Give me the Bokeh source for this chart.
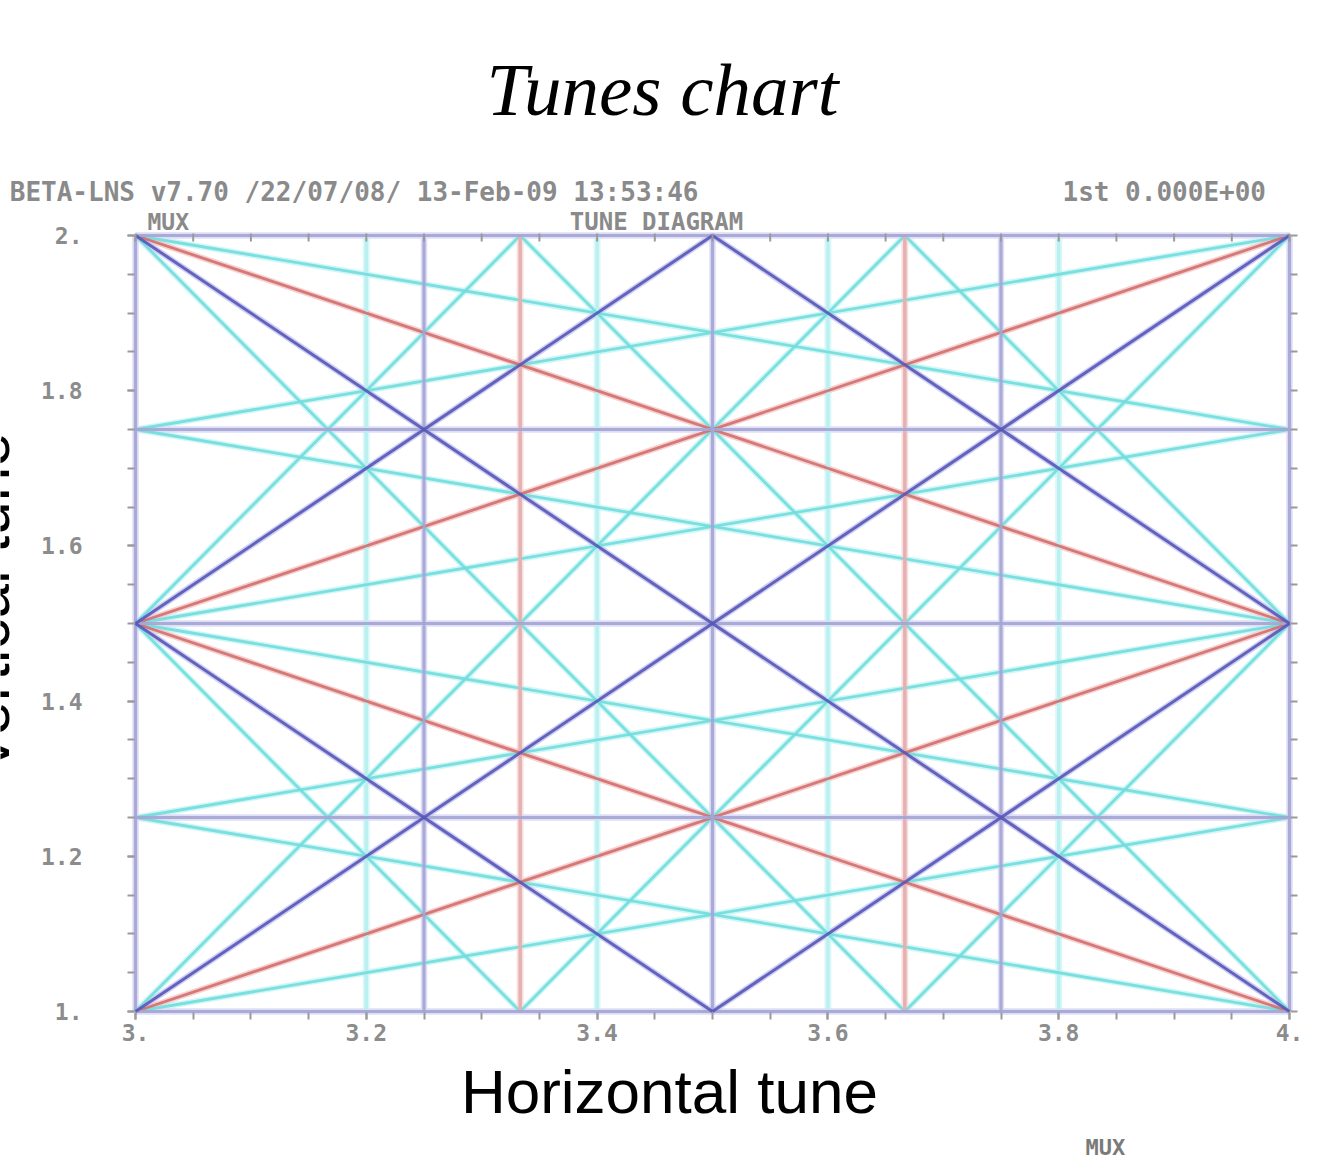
import numpy as np
from bokeh.plotting import figure
from bokeh.layouts import column, row
from bokeh.models import Range1d, LinearAxis, FixedTicker, CustomJSTickFormatter, Title
from bokeh.core.properties import value
from bokeh.embed import file_html
from bokeh.resources import INLINE

# ---------------- data ----------------
qx_lo, qx_hi = 3.0, 4.0
qy_lo, qy_hi = 1.0, 2.0

x_tick_values = [3.0, 3.2, 3.4, 3.6, 3.8, 4.0]
x_tick_labels = ["3.", "3.2", "3.4", "3.6", "3.8", "4."]
y_tick_values = [1.0, 1.2, 1.4, 1.6, 1.8, 2.0]
y_tick_labels = ["1.", "1.2", "1.4", "1.6", "1.8", "2."]
minor_step = 0.05

# resonance lines  a*Qx + b*Qy = n
# order 1/2/4 (blue)
blue_a = [4, 4, 4, 4, 4, 0, 0, 0, 0, 0, 2, 2, 2, 2, 2, 2]
blue_b = [0, 0, 0, 0, 0, 4, 4, 4, 4, 4, 2, 2, 2, -2, -2, -2]
blue_n = [12, 13, 14, 15, 16, 4, 5, 6, 7, 8, 9, 10, 11, 3, 4, 5]
# order 3 (red)
red_a = [3, 3, 1, 1, 1, 1]
red_b = [0, 0, 2, 2, -2, -2]
red_n = [10, 11, 6, 7, 0, 1]
# order 5 (cyan)
cyan_a = [5, 5, 5, 5, 3, 3, 3, 3, 3, 3, 3, 3, 1, 1, 1, 1, 1, 1, 1, 1]
cyan_b = [0, 0, 0, 0, 2, 2, 2, 2, -2, -2, -2, -2, 4, 4, 4, 4, -4, -4, -4, -4]
cyan_n = [16, 17, 18, 19, 12, 13, 14, 15, 6, 7, 8, 9, 8, 9, 10, 11, -4, -3, -2, -1]

title_text = "Tunes chart"
xlabel_text = "Horizontal tune"
ylabel_text = "Vertical tune"
header_left = "BETA-LNS v7.70 /22/07/08/ 13-Feb-09 13:53:46"
header_right = "1st 0.000E+00"
sub_left = "MUX"
sub_center = "TUNE DIAGRAM"
footer_text = "MUX"


def clip_line(a, b, n):
    eps = 1e-9
    pts = []
    if b != 0:
        for x in (qx_lo, qx_hi):
            y = (n - a * x) / b
            if qy_lo - eps <= y <= qy_hi + eps:
                pts.append((x, y))
    if a != 0:
        for y in (qy_lo, qy_hi):
            x = (n - b * y) / a
            if qx_lo - eps <= x <= qx_hi + eps:
                pts.append((x, y))
    uniq = []
    for p_ in pts:
        if not any(abs(p_[0] - q[0]) < eps and abs(p_[1] - q[1]) < eps for q in uniq):
            uniq.append(p_)
    if len(uniq) < 2:
        return None
    uniq.sort()
    return [uniq[0][0], uniq[-1][0]], [uniq[0][1], uniq[-1][1]]


def groups(A, B, N):
    straight = ([], [])
    diag = ([], [])
    for a, b, n in zip(A, B, N):
        seg = clip_line(a, b, n)
        if seg is None:
            continue
        tgt = straight if (a == 0 or b == 0) else diag
        tgt[0].append(seg[0])
        tgt[1].append(seg[1])
    return straight, diag


# ---------------- layout (screen pixels) ----------------
TOTAL_W, TOTAL_H = 1330, 1168
TOP_H = 205           # strip holding title + header line
LEFT_W = 14           # strip holding the (cropped) vertical label
X0, X1 = 135, 1289    # screen x of Qx = 3 and 4
Y1, Y0 = 235, 1011    # screen y of Qy = 2 and 1
PX_X = (X1 - X0) / (qx_hi - qx_lo)
PX_Y = (Y0 - Y1) / (qy_hi - qy_lo)
pad = 5
frame_left, frame_right = X0 - pad, X1 + pad
frame_bottom = Y0 + pad

MW = TOTAL_W - LEFT_W
MH = TOTAL_H - TOP_H


def to_qx(px):
    return qx_lo + (px - X0) / PX_X


def to_qy(py):
    return qy_lo + (Y0 - py) / PX_Y


p = figure(width=MW, height=MH,
           x_range=Range1d(to_qx(frame_left), to_qx(frame_right)),
           y_range=Range1d(to_qy(frame_bottom), to_qy(TOP_H)),
           output_backend="svg", toolbar_location=None,
           min_border_left=frame_left - LEFT_W, min_border_top=0,
           min_border_right=LEFT_W + MW - frame_right,
           min_border_bottom=TOTAL_H - frame_bottom)
p.grid.visible = False
p.outline_line_color = None
p.background_fill_color = "white"
p.border_fill_color = "white"

# ---------------- resonance lines ----------------
cs, cd = groups(cyan_a, cyan_b, cyan_n)
rs, rd = groups(red_a, red_b, red_n)
bs, bd = groups(blue_a, blue_b, blue_n)

# soft halos (the original is a blurred raster)
p.multi_line(cs[0], cs[1], line_color="#d9f9f9", line_width=7)
p.multi_line(cd[0], cd[1], line_color="#c4f5f5", line_width=6, line_alpha=0.8)
p.multi_line(rs[0], rs[1], line_color="#f8e0e0", line_width=7)
p.multi_line(rd[0], rd[1], line_color="#f5c4c4", line_width=6, line_alpha=0.8)
p.multi_line(bs[0], bs[1], line_color="#dedef6", line_width=6.5)
p.multi_line(bd[0], bd[1], line_color="#c6c6f0", line_width=6, line_alpha=0.8)
# cores
p.multi_line(cs[0], cs[1], line_color="#bcf0f0", line_width=3.5)
p.multi_line(cd[0], cd[1], line_color="#72dcdc", line_width=2.8, line_alpha=0.9)
p.multi_line(rs[0], rs[1], line_color="#e4b0b0", line_width=3.5)
p.multi_line(rd[0], rd[1], line_color="#cf6e6e", line_width=2.8, line_alpha=0.9)
p.multi_line(bs[0], bs[1], line_color="#a4a4d4", line_width=3.2, line_alpha=0.9)
p.multi_line(bd[0], bd[1], line_color="#5757b8", line_width=3.0, line_alpha=0.9)

# ---------------- axes ----------------
x_minor = [round(qx_lo + k * minor_step, 4) for k in range(int(round((qx_hi - qx_lo) / minor_step)) + 1)]
y_minor = [round(qy_lo + k * minor_step, 4) for k in range(int(round((qy_hi - qy_lo) / minor_step)) + 1)]

fmt_code = """
for (let i = 0; i < vals.length; i++) { if (Math.abs(vals[i] - tick) < 1e-6) return labs[i]; }
return '';
"""
xfmt = CustomJSTickFormatter(args=dict(vals=x_tick_values, labs=x_tick_labels), code=fmt_code)
yfmt = CustomJSTickFormatter(args=dict(vals=y_tick_values, labs=y_tick_labels), code=fmt_code)

TICK_COLOR = "#9a9a9a"


def style_axis(ax):
    ax.axis_line_color = None
    ax.major_tick_line_color = TICK_COLOR
    ax.minor_tick_line_color = TICK_COLOR
    ax.major_tick_line_width = 2
    ax.minor_tick_line_width = 2
    ax.major_tick_in = 4
    ax.major_tick_out = 3
    ax.minor_tick_in = 4
    ax.minor_tick_out = 3
    ax.major_label_text_font = "DejaVu Sans Mono"
    ax.major_label_text_font_style = "bold"
    ax.major_label_text_font_size = "23px"
    ax.major_label_text_color = "#8c8c8c"


xa = p.xaxis[0]
xa.ticker = FixedTicker(ticks=x_tick_values, minor_ticks=x_minor)
xa.formatter = xfmt
style_axis(xa)
xa.major_label_standoff = 4
nb = "\u00a0"
xa.axis_label = xlabel_text + nb * 5
xa.axis_label_text_font = "Liberation Sans"
xa.axis_label_text_font_style = "normal"
xa.axis_label_text_font_size = "62px"
xa.axis_label_text_color = "black"
xa.axis_label_standoff = 13

ya = p.yaxis[0]
ya.ticker = FixedTicker(ticks=y_tick_values, minor_ticks=y_minor)
ya.formatter = yfmt
style_axis(ya)
ya.major_label_standoff = 45

right_ax = LinearAxis(ticker=FixedTicker(ticks=[], minor_ticks=y_minor))
style_axis(right_ax)
p.add_layout(right_ax, "right")

# tick marks along the top edge of the diagram (inside)
p.segment(x0=x_minor, y0=[qy_hi + 2 / PX_Y] * len(x_minor),
          x1=x_minor, y1=[qy_hi - 6 / PX_Y] * len(x_minor),
          line_color=TICK_COLOR, line_width=2)

# footer fragment at the bottom edge
p.add_layout(Title(text=footer_text, align="left", offset=1085 - frame_left, standoff=8,
                   text_font="DejaVu Sans Mono", text_font_style="bold",
                   text_font_size="22px", text_color="#7a7a7a"), "below")

# sub-header line just above the diagram
mono_props = dict(text_font=value("DejaVu Sans Mono"), text_font_style="bold",
                  text_color="#8a8a8a", text_baseline="middle")
p.text(x=[to_qx(147)], y=[to_qy(221)], text=[sub_left], text_align="left",
       text_font_size="23px", **mono_props)
p.text(x=[to_qx(656)], y=[to_qy(221)], text=[sub_center], text_align="center",
       text_font_size="24px", **mono_props)

# ---------------- top strip: title + header ----------------
top = figure(width=TOTAL_W, height=TOP_H, x_range=Range1d(0, TOTAL_W), y_range=Range1d(0, TOP_H),
             output_backend="svg", toolbar_location=None,
             x_axis_location=None, y_axis_location=None,
             min_border_left=0, min_border_right=0, min_border_top=0, min_border_bottom=0)
top.grid.visible = False
top.outline_line_color = None
top.text(x=[662], y=[TOP_H - 89], text=[title_text], text_align="center",
         text_baseline="alphabetic", text_font=value("Liberation Serif"),
         text_font_style="italic", text_font_size="75px", text_color="black")
top.text(x=[698], y=[TOP_H - 191], text=[header_left], text_align="right",
         text_font_size="26px", **mono_props)
top.text(x=[1062], y=[TOP_H - 191], text=[header_right], text_align="left",
         text_font_size="26px", **mono_props)

# ---------------- left strip: cropped vertical label ----------------
left = figure(width=LEFT_W, height=MH, x_range=Range1d(0, LEFT_W), y_range=Range1d(0, MH),
              output_backend="svg", toolbar_location=None,
              x_axis_location=None, y_axis_location=None,
              min_border_left=0, min_border_right=0, min_border_top=0, min_border_bottom=0)
left.grid.visible = False
left.outline_line_color = None
left.text(x=[-13], y=[MH - (677 - TOP_H)], text=[ylabel_text], angle=np.pi / 2,
          text_align="center", text_baseline="alphabetic",
          text_font=value("Liberation Sans"), text_font_size="62px", text_color="black")

layout = column(top, row(left, p, spacing=0), spacing=0)
open("out.html", "w").write(file_html(layout, INLINE))
